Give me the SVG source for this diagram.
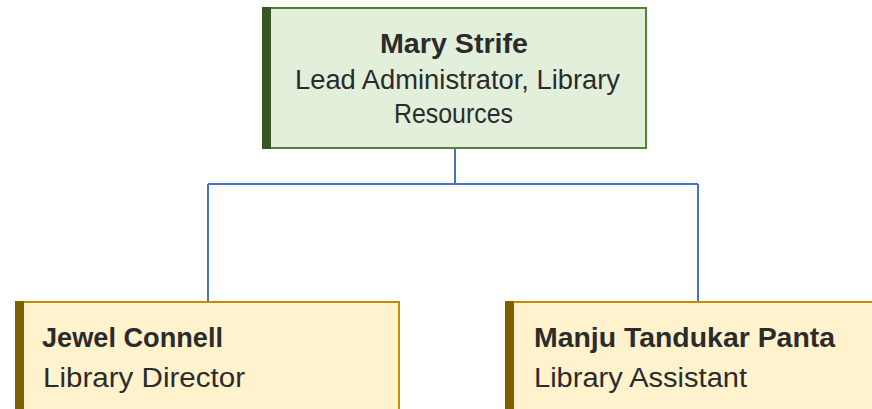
<svg xmlns="http://www.w3.org/2000/svg" width="872" height="409" viewBox="0 0 872 409">
<style>
.t{font-family:"Liberation Sans","Noto Sans",sans-serif;font-size:27px;fill:#2b2b2b}
.b{font-weight:bold}
.g{fill:#E2EFDA;stroke:#548235;stroke-width:2}
.y{fill:#FFF2CC;stroke:#BF9000;stroke-width:2}
.conn{fill:none;stroke:#4472C4;stroke-width:2}
</style>
<rect width="872" height="409" fill="#fff"/>
<g id="connectors">
<path class="conn" d="M455 148V184M208 184H698M208 184V301M698 184V301"/>
</g>
<g id="mary">
<rect class="g" x="263" y="8" width="383" height="140"/>
<rect x="262" y="7" width="9" height="142" fill="#375623"/>
<text class="t b" x="380" y="53" textLength="148" lengthAdjust="spacingAndGlyphs">Mary Strife</text>
<text class="t" x="295" y="89" textLength="325" lengthAdjust="spacingAndGlyphs">Lead Administrator, Library</text>
<text class="t" x="394" y="123" textLength="119" lengthAdjust="spacingAndGlyphs">Resources</text>
</g>
<g id="jewel">
<rect class="y" x="16" y="302" width="383" height="120"/>
<rect x="15" y="301" width="9" height="120" fill="#7F6000"/>
<text class="t b" x="42" y="347" textLength="181" lengthAdjust="spacingAndGlyphs">Jewel Connell</text>
<text class="t" x="43" y="387" textLength="202" lengthAdjust="spacingAndGlyphs">Library Director</text>
</g>
<g id="manju">
<rect class="y" x="506" y="302" width="383" height="120"/>
<rect x="505" y="301" width="9" height="120" fill="#7F6000"/>
<text class="t b" x="534" y="347" textLength="301" lengthAdjust="spacingAndGlyphs">Manju Tandukar Panta</text>
<text class="t" x="534" y="387" textLength="213" lengthAdjust="spacingAndGlyphs">Library Assistant</text>
</g>
</svg>
